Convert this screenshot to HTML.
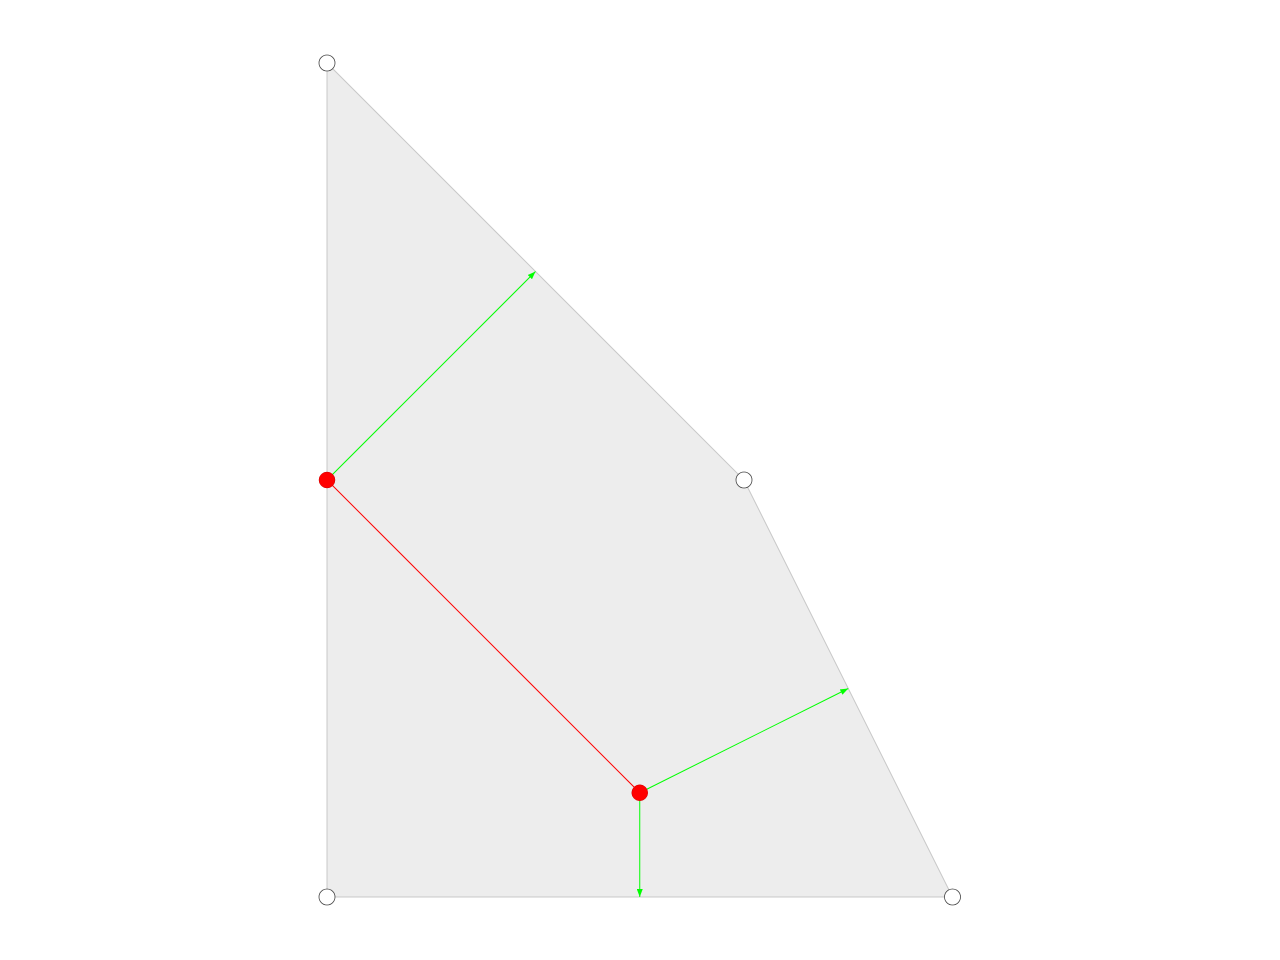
<!DOCTYPE html>
<html><head><meta charset="utf-8"><style>
html,body{margin:0;padding:0;background:#fff;}
svg{display:block;}
</style></head><body>
<svg id="chart" width="1280" height="960" viewBox="0 0 1280 960" xmlns="http://www.w3.org/2000/svg"></svg>
<script>
const polyX = [0, 4, 6, 0];
const polyY = [8, 4, 0, 0];
const redX = [0, 3];
const redY = [4, 1];
const edgeFrom = [0];
const edgeTo = [1];
const arrowFromX = [0, 3, 3];
const arrowFromY = [4, 1, 1];
const arrowToX = [2, 5, 3];
const arrowToY = [6, 2, 0];

const unit = 104.25;
const sx = v => 327 + v * unit;
const sy = v => 897 - v * unit;
const NS = 'http://www.w3.org/2000/svg';
const svg = document.getElementById('chart');
function mk(t, a){const e=document.createElementNS(NS,t);for(const k in a)e.setAttribute(k,a[k]);svg.appendChild(e);return e;}

const defs = mk('defs',{});
const m = document.createElementNS(NS,'marker');
m.setAttribute('id','ah');m.setAttribute('markerWidth','8');m.setAttribute('markerHeight','6');
m.setAttribute('refX','8');m.setAttribute('refY','3');m.setAttribute('orient','auto');m.setAttribute('markerUnits','userSpaceOnUse');
const mp=document.createElementNS(NS,'path');mp.setAttribute('d','M0,0 L8,3 L0,6 z');mp.setAttribute('fill','#00ff00');
m.appendChild(mp);defs.appendChild(m);

const poly = mk('polygon',{points: polyX.map((x,i)=>sx(x)+','+sy(polyY[i])).join(' '), fill:'#ededed', stroke:'#c8c8c8', 'stroke-width':1});



for(let i=0;i<edgeFrom.length;i++){
  const l = mk('line',{x1:sx(redX[edgeFrom[i]]),y1:sy(redY[edgeFrom[i]]),x2:sx(redX[edgeTo[i]]),y2:sy(redY[edgeTo[i]]),stroke:'#ff0000','stroke-width':1});
  
  
}
for(let i=0;i<arrowFromX.length;i++){
  const l = mk('line',{x1:sx(arrowFromX[i]),y1:sy(arrowFromY[i]),x2:sx(arrowToX[i]),y2:sy(arrowToY[i]),stroke:'#00ff00','stroke-width':1,'marker-end':'url(#ah)'});
  
  
}
for(let i=0;i<polyX.length;i++){
  const c = mk('circle',{cx:sx(polyX[i]),cy:sy(polyY[i]),r:8,fill:'#fff',stroke:'#444','stroke-width':0.8});
  
  
}
for(let i=0;i<redX.length;i++){
  const c = mk('circle',{cx:sx(redX[i]),cy:sy(redY[i]),r:8,fill:'#ff0000',stroke:'#cc0000','stroke-width':0.5});
  
  
}
</script>
</body></html>
